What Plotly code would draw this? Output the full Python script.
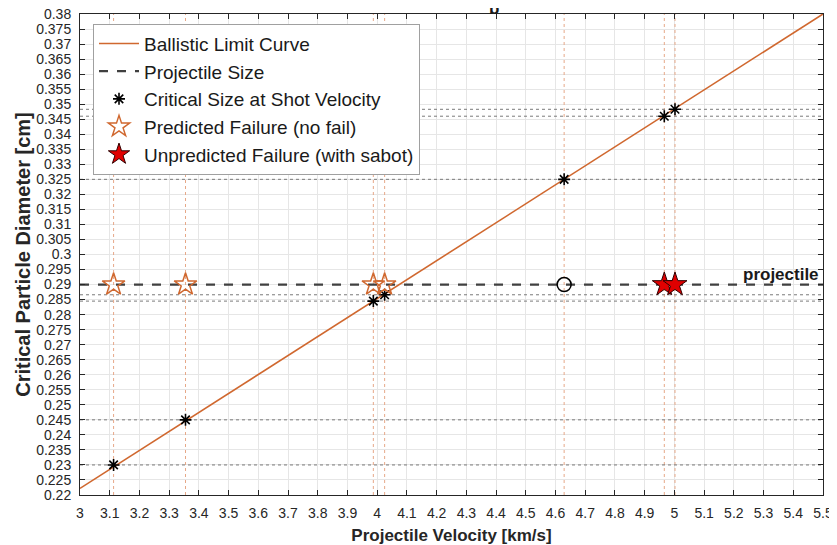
import plotly.graph_objects as go

# ---- data ----
curve_velocity = [3.0, 5.5]
curve_diameter = [0.2222, 0.38]

projectile_size = 0.29
proj_velocity_range = [3.0, 5.5]

shot_velocity = [3.113, 3.355, 3.987, 4.025, 4.629, 4.966, 5.002]
critical_size = [0.2300, 0.2450, 0.2845, 0.2866, 0.3250, 0.3460, 0.3483]

predicted_velocity = [3.113, 3.355, 3.987, 4.025]
unpredicted_velocity = [4.966, 5.002]
other_velocity = [4.629]

x_ticks = [round(3.0 + 0.1 * i, 1) for i in range(26)]
y_ticks = [round(0.22 + 0.005 * i, 3) for i in range(33)]


def mlab(v):
    s = ("%.3f" % v).rstrip("0").rstrip(".")
    return s


ORANGE = "#D0682F"
FONT = "Liberation Sans, Arial, sans-serif"

fig = go.Figure()

# reference dotted lines
for v in shot_velocity:
    fig.add_trace(go.Scatter(x=[v, v], y=[0.22, 0.38], mode="lines",
                             line=dict(color="#E6A888", width=1, dash="dot"),
                             showlegend=False, hoverinfo="skip"))
for c in critical_size:
    fig.add_trace(go.Scatter(x=[3.0, 5.5], y=[c, c], mode="lines",
                             line=dict(color="#7A7A7A", width=1, dash="dot"),
                             showlegend=False, hoverinfo="skip"))

fig.add_trace(go.Scatter(x=curve_velocity, y=curve_diameter, mode="lines",
                         line=dict(color=ORANGE, width=1.6),
                         name="Ballistic Limit Curve"))
fig.add_trace(go.Scatter(x=proj_velocity_range, y=[projectile_size] * 2, mode="lines",
                         line=dict(color="#404040", width=2.2, dash="dash"),
                         name="Projectile Size"))
fig.add_trace(go.Scatter(x=shot_velocity, y=critical_size, mode="markers",
                         marker=dict(symbol="asterisk-open", size=10, color="black",
                                     line=dict(color="black", width=1.6)),
                         name="Critical Size at Shot Velocity"))
fig.add_trace(go.Scatter(x=predicted_velocity, y=[projectile_size] * len(predicted_velocity),
                         mode="markers",
                         marker=dict(symbol="star-open", size=17, color=ORANGE,
                                     line=dict(color=ORANGE, width=1.5)),
                         name="Predicted Failure (no fail)"))
fig.add_trace(go.Scatter(x=unpredicted_velocity, y=[projectile_size] * len(unpredicted_velocity),
                         mode="markers",
                         marker=dict(symbol="star", size=18, color="#E00000",
                                     line=dict(color="#300000", width=1)),
                         name="Unpredicted Failure (with sabot)"))
fig.add_trace(go.Scatter(x=other_velocity, y=[projectile_size], mode="markers",
                         marker=dict(symbol="circle-open", size=14, color="black",
                                     line=dict(color="black", width=1.5)),
                         showlegend=False))

fig.add_annotation(x=5.5, y=projectile_size, xref="x", yref="y",
                   text="<b>projectile</b>", showarrow=False,
                   xanchor="right", yanchor="bottom", xshift=-2, yshift=-1,
                   font=dict(family=FONT, size=17, color="#1a1a1a"))
fig.add_annotation(x=0.557, y=1.0, xref="paper", yref="paper",
                   text="<b>b</b>", showarrow=False, yanchor="bottom", yshift=-6,
                   font=dict(family=FONT, size=17, color="#1a1a1a"))

axis_common = dict(showline=True, linecolor="#262626", linewidth=1, mirror="allticks",
                   ticks="inside", ticklen=5, tickcolor="#262626", automargin=False,
                   ticklabeloverflow="allow",
                   showgrid=True, gridcolor="#E6E6E6", gridwidth=1, zeroline=False,
                   tickfont=dict(family=FONT, size=14, color="#262626"))

fig.update_xaxes(range=[3.0, 5.5], tickvals=x_ticks, ticktext=[mlab(v) for v in x_ticks],
                 ticklabelstandoff=5,
                 title=dict(text="<b>Projectile Velocity [km/s]</b>", standoff=9,
                            font=dict(family=FONT, size=17, color="#262626")),
                 **axis_common)
fig.update_yaxes(range=[0.22, 0.38], tickvals=y_ticks, ticktext=[mlab(v) for v in y_ticks],
                 ticklabelstandoff=5,
                 title=dict(text="<b>Critical Particle Diameter [cm]</b>", standoff=0,
                            font=dict(family=FONT, size=20, color="#262626")),
                 **axis_common)

fig.update_layout(
    width=829, height=541,
    margin=dict(l=72, r=14, t=6, b=54, autoexpand=False),
    plot_bgcolor="white", paper_bgcolor="white",
    font=dict(family=FONT),
    legend=dict(x=0.0175, y=0.98, xanchor="left", yanchor="top",
                bgcolor="white", bordercolor="#A0A0A0", borderwidth=1,
                font=dict(family=FONT, size=19, color="#1a1a1a"),
                tracegroupgap=0, itemwidth=40),
)

fig.write_html("out.html")
